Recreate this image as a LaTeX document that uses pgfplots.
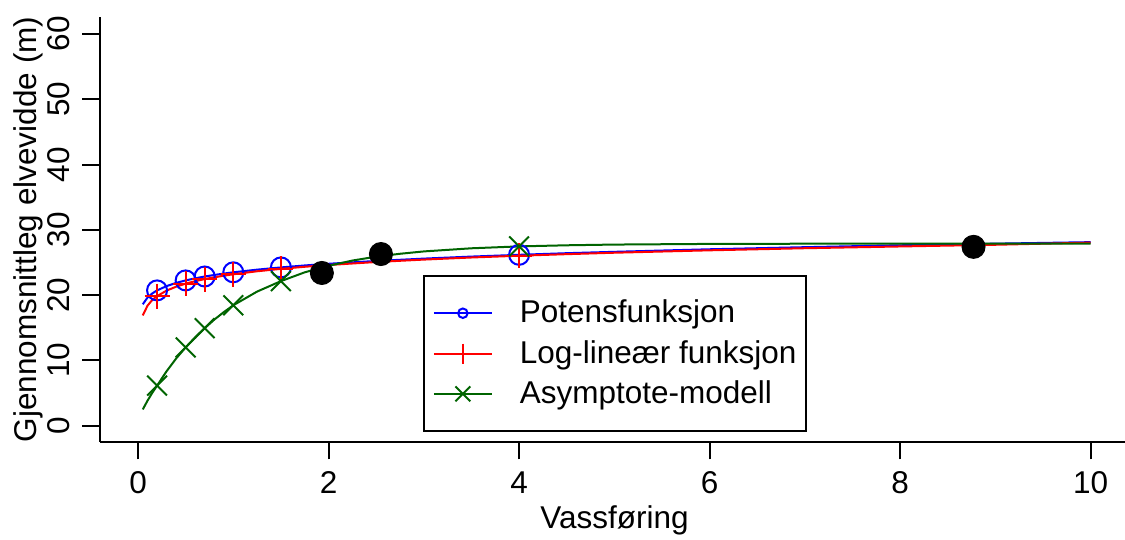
\documentclass[border=0pt]{standalone}
\usepackage{fontspec}
\setmainfont{Liberation Sans}
\usepackage{pgfplots}
\pgfplotsset{compat=1.18}
\definecolor{rgreen}{RGB}{0,100,0}

\begin{document}
\begin{tikzpicture}
\begin{axis}[
  scale only axis,
  width=410pt, height=169.9pt,
  xmin=-0.399, xmax=10.36,
  ymin=-2.45, ymax=62.6,
  axis x line*=bottom, axis y line*=left,
  axis line style={-, line width=0.8pt},
  xtick={0,2,4,6,8,10},
  ytick={0,10,20,30,40,50,60},
  tick align=outside,
  major tick length=7pt,
  tick style={black, line width=0.8pt},
  minor tick num=0,
  font=\fontsize{12.6}{15}\selectfont,
  /pgf/number format/assume math mode=true,
  xticklabel style={anchor=base, inner sep=0pt},
  yticklabel style={xshift=-4.4pt, rotate=90, anchor=base, inner sep=0pt},
  xticklabel shift=13.5pt,
  yticklabel shift=0.6pt,
  xlabel={Vassføring},
  ylabel={Gjennomsnittleg elvevidde (m)},
  xlabel style={at={([yshift=-34.5pt]axis description cs:0.502,0)}, anchor=base, inner sep=0pt},
  ylabel style={at={([xshift=-25.2pt]axis description cs:0,0.5)}, anchor=base, inner sep=0pt},
  legend style={at={(axis cs:2.99,23.1)}, anchor=north west,
    draw=black, line width=0.8pt, inner xsep=3.6pt, inner ysep=9.6pt,
    row sep=5.5pt, column sep=10.8pt, nodes={inner sep=0pt},
    font=\fontsize{12.6}{15}\selectfont},
  legend cell align=left,
  legend image code/.code={
    \draw[mark repeat=2, mark phase=2, line width=0.8pt]
      plot coordinates {(0pt,0pt) (11.6pt,0pt) (23.2pt,0pt)};},
]
% legend entries
\addlegendimage{blue, mark=o, mark size=1.9pt}
\addlegendentry{Potensfunksjon}
\addlegendimage{red, mark=+, mark size=4pt}
\addlegendentry{Log-lineær funksjon}
\addlegendimage{rgreen, mark=x, mark size=4.2pt}
\addlegendentry{Asymptote-modell}

% Potensfunksjon
\addplot[blue, line width=0.8pt, no marks, forget plot] coordinates {
  (0.05,18.60)(0.1,19.64)(0.15,20.27)(0.2,20.73)(0.3,21.39)(0.4,21.88)(0.5,22.26)
  (0.6,22.58)(0.7,22.86)(0.8,23.09)(0.9,23.31)(1.0,23.50)(1.25,23.91)(1.5,24.25)
  (1.75,24.55)(2.0,24.81)(2.5,25.24)(3.0,25.60)(3.5,25.91)(4.0,26.18)(4.5,26.43)
  (5,26.64)(6,27.03)(7,27.35)(8,27.64)(9,27.89)(10,28.12)};
\addplot[blue, only marks, mark=o, mark size=4pt, line width=0.8pt, forget plot]
  coordinates {(0.2,20.73)(0.5,22.26)(0.7,22.86)(1.0,23.50)(1.5,24.25)(4.0,26.18)};
% Log-lineaer funksjon
\addplot[red, line width=0.8pt, no marks, forget plot] coordinates {
  (0.05,16.90)(0.1,18.40)(0.15,19.27)(0.2,19.85)(0.3,20.70)(0.4,21.30)(0.5,21.77)
  (0.6,22.14)(0.7,22.47)(0.8,22.74)(0.9,22.98)(1.0,23.20)(1.25,23.66)(1.5,24.03)
  (1.75,24.35)(2.0,24.62)(2.5,25.08)(3.0,25.45)(3.5,25.77)(4.0,26.04)(4.5,26.28)
  (5,26.50)(6,26.87)(7,27.19)(8,27.46)(9,27.72)(10,28.05)};
\addplot[red, only marks, mark=+, mark size=5pt, line width=0.8pt, forget plot]
  coordinates {(0.2,19.85)(0.5,21.77)(0.7,22.47)(1.0,23.20)(1.5,24.03)(4.0,26.04)};
% Asymptote-modell
\addplot[rgreen, line width=0.8pt, no marks, forget plot] coordinates {
  (0.05,2.50)(0.1,3.85)(0.15,5.05)(0.2,6.15)(0.3,8.35)(0.4,10.30)(0.5,12.00)
  (0.6,13.55)(0.7,14.95)(0.8,16.25)(0.9,17.40)(1.0,18.45)(1.25,20.55)(1.5,22.15)
  (1.75,23.50)(2.0,24.50)(2.25,25.30)(2.5,25.90)(2.75,26.34)(3.0,26.70)(3.5,27.18)
  (4.0,27.47)(4.5,27.64)(5,27.75)(6,27.85)(7,27.88)(8,27.89)(10,27.90)};
\addplot[rgreen, only marks, mark=x, mark size=5.6pt, line width=0.8pt, forget plot]
  coordinates {(0.2,6.15)(0.5,12.00)(0.7,14.95)(1.0,18.45)(1.5,22.15)(4.0,27.47)};
% observasjonar
\addplot[black, only marks, mark=*, mark size=4.6pt, forget plot]
  coordinates {(1.93,23.4)(2.55,26.3)(8.77,27.4)};
\end{axis}
\pgfresetboundingbox
\path ([shift={(-40pt,-38.9pt)}]current axis.south west) rectangle ([shift={(0pt,6.8pt)}]current axis.north east);
\end{tikzpicture}
\end{document}
